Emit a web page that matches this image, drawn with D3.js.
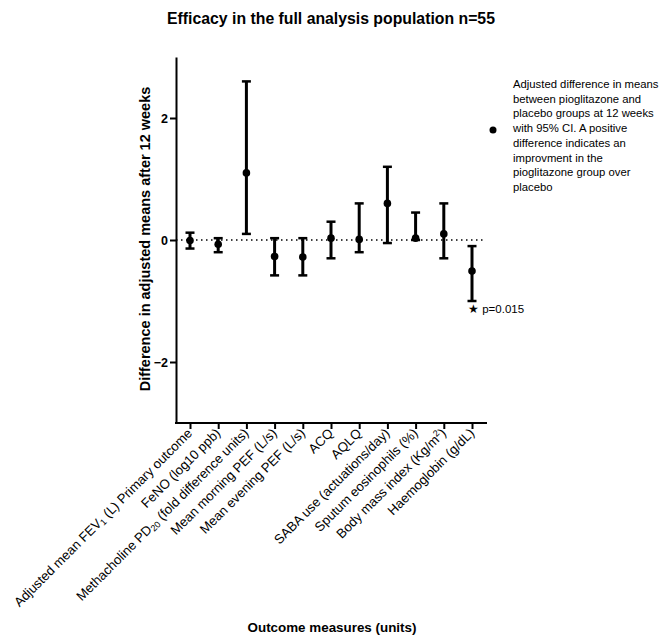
<!DOCTYPE html>
<html lang="en">
<head>
<meta charset="utf-8">
<title>Efficacy</title>
<script src="https://d3js.org/d3.v7.min.js"></script>
<style>
  body { margin: 0; background: #fff; }
  text { font-family: "Liberation Sans", Arial, sans-serif; fill: #000; }
</style>
</head>
<body>
<div class="chart"></div>
<script>
// outcome labels: [text, sub/sup parts]
var outcomes = [
  [["Adjusted mean FEV", ""], ["1", "sub"], [" (L) Primary outcome", ""]],
  [["FeNO (log10 ppb)", ""]],
  [["Methacholine PD", ""], ["20", "sub"], [" (fold difference units)", ""]],
  [["Mean morning PEF (L/s)", ""]],
  [["Mean evening PEF (L/s)", ""]],
  [["ACQ", ""]],
  [["AQLQ", ""]],
  [["SABA use (actuations/day)", ""]],
  [["Sputum eosinophils (%)", ""]],
  [["Body mass index (Kg/m", ""], ["2", "sup"], [")", ""]],
  [["Haemoglobin (g/dL)", ""]]
];
var means = [-0.01, -0.07, 1.10, -0.27, -0.28, 0.03, 0.01, 0.60, 0.03, 0.10, -0.51];
var lower = [-0.14, -0.20, 0.10, -0.58, -0.58, -0.30, -0.20, -0.05, 0.00, -0.30, -1.00];
var upper = [0.12, 0.03, 2.60, 0.03, 0.03, 0.30, 0.60, 1.20, 0.45, 0.60, -0.10];
var yTicks = [-2, 0, 2];
var legendLines = [
  "Adjusted difference in means",
  "between pioglitazone and",
  "placebo groups at 12 weeks",
  "with 95% CI. A positive",
  "difference indicates an",
  "improvment in the",
  "pioglitazone group over",
  "placebo"
];

var width = 665, height = 637;
var svg = d3.select(".chart").append("svg")
  .attr("width", width).attr("height", height);

var x = d3.scalePoint().domain(d3.range(outcomes.length)).range([190, 472]);
var y = d3.scaleLinear().domain([-3, 3]).range([423, 57]);

// title
svg.append("text").attr("x", 331).attr("y", 24)
  .attr("text-anchor", "middle").attr("font-size", 15.8).attr("font-weight", "bold")
  .text("Efficacy in the full analysis population n=55");

// zero line
svg.append("line")
  .attr("x1", 176).attr("x2", 484).attr("y1", y(0)).attr("y2", y(0))
  .attr("stroke", "#000").attr("stroke-width", 1.6).attr("stroke-dasharray", "1.5,3.5");

// y axis
var yAxis = svg.append("g").attr("transform", "translate(176,0)")
  .call(d3.axisLeft(y).tickValues(yTicks).tickSize(6).tickSizeOuter(0).tickFormat(d3.format("d")));
yAxis.select(".domain").attr("stroke-width", 2);
yAxis.selectAll(".tick line").attr("stroke-width", 2);
yAxis.selectAll(".tick text").attr("font-size", 12.5).attr("font-weight", "bold")
  .attr("font-family", "Liberation Sans, Arial, sans-serif").attr("x", -8);

// x axis
var xAxis = svg.append("g").attr("transform", "translate(0,423)")
  .call(d3.axisBottom(x).tickSize(6).tickSizeOuter(0).tickFormat(""));
xAxis.select(".domain").attr("d", "M175,0H487").attr("stroke-width", 2);
xAxis.selectAll(".tick line").attr("stroke-width", 2);

// rotated tick labels
var labels = svg.append("g").selectAll("text")
  .data(outcomes).enter().append("text")
  .attr("transform", function(d, i) { return "translate(" + (x(i) + 3) + ",434) rotate(-45)"; })
  .attr("text-anchor", "end")
  .attr("font-size", 13.2);
labels.each(function(parts) {
  var t = d3.select(this);
  parts.forEach(function(p, k) {
    var s = t.append("tspan").text(p[0]);
    if (p[1] === "sub") s.attr("font-size", 9).attr("dy", 2);
    if (p[1] === "sup") s.attr("font-size", 9).attr("dy", -5);
    if (p[1] === "" && k > 0 && parts[k - 1][1] === "sub") s.attr("dy", -2);
    if (p[1] === "" && k > 0 && parts[k - 1][1] === "sup") s.attr("dy", 5);
  });
});

// error bars
var bars = svg.append("g").selectAll("g")
  .data(means).enter().append("g");
bars.append("line")
  .attr("x1", function(d, i) { return x(i); }).attr("x2", function(d, i) { return x(i); })
  .attr("y1", function(d, i) { return y(upper[i]); }).attr("y2", function(d, i) { return y(lower[i]); })
  .attr("stroke", "#000").attr("stroke-width", 3);
bars.append("line")
  .attr("x1", function(d, i) { return x(i) - 4.5; }).attr("x2", function(d, i) { return x(i) + 4.5; })
  .attr("y1", function(d, i) { return y(upper[i]); }).attr("y2", function(d, i) { return y(upper[i]); })
  .attr("stroke", "#000").attr("stroke-width", 2.5);
bars.append("line")
  .attr("x1", function(d, i) { return x(i) - 4.5; }).attr("x2", function(d, i) { return x(i) + 4.5; })
  .attr("y1", function(d, i) { return y(lower[i]); }).attr("y2", function(d, i) { return y(lower[i]); })
  .attr("stroke", "#000").attr("stroke-width", 2.5);
bars.append("circle")
  .attr("cx", function(d, i) { return x(i); }).attr("cy", function(d) { return y(d); })
  .attr("r", 3.8).attr("fill", "#000");

// significance note
svg.append("text").attr("x", x(10) - 4).attr("y", y(lower[10]) + 12)
  .attr("font-size", 11.5).text("\u2605 p=0.015");

// axis titles
svg.append("text")
  .attr("transform", "translate(150," + (y(0) - 1) + ") rotate(-90)")
  .attr("text-anchor", "middle").attr("font-size", 14.5).attr("font-weight", "bold")
  .text("Difference in adjusted means after 12 weeks");
svg.append("text").attr("x", 332).attr("y", 632)
  .attr("text-anchor", "middle").attr("font-size", 13.4).attr("font-weight", "bold")
  .text("Outcome measures (units)");

// legend
svg.append("circle").attr("cx", 493).attr("cy", 130).attr("r", 3.5).attr("fill", "#000");
svg.append("g").selectAll("text")
  .data(legendLines).enter().append("text")
  .attr("x", 513).attr("y", function(d, i) { return 88 + i * 14.7; })
  .attr("font-size", 11.3).text(function(d) { return d; });
</script>
</body>
</html>
